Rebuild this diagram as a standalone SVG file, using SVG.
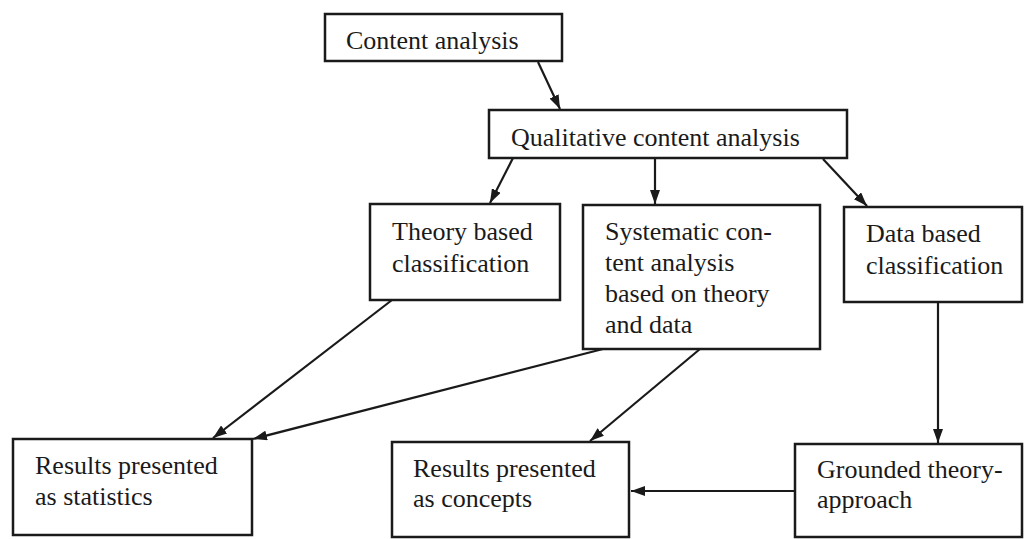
<svg xmlns="http://www.w3.org/2000/svg" width="1030" height="539" viewBox="0 0 1030 539">
<style>
.box{fill:#fff;stroke:#1a1a1a;stroke-width:2.5}
.t{font-family:"Liberation Serif","Times New Roman",serif;font-size:26px;fill:#1a1a1a}
.c{stroke:#1a1a1a;stroke-width:2.2;fill:none;marker-end:url(#ah)}
</style>
<defs>
<marker id="ah" viewBox="0 0 14 10" refX="14" refY="5" markerWidth="14" markerHeight="10" markerUnits="userSpaceOnUse" orient="auto">
<path d="M0,0 L14,5 L0,10 Z" fill="#1a1a1a"/>
</marker>
</defs>
<rect width="1030" height="539" fill="#fff"/>
<g id="connectors">
<line class="c" x1="538" y1="62" x2="560" y2="109"/>
<line class="c" x1="513" y1="158" x2="490" y2="203"/>
<line class="c" x1="655" y1="158" x2="655" y2="204"/>
<line class="c" x1="823" y1="159" x2="867" y2="206"/>
<line class="c" x1="392" y1="300" x2="213" y2="438"/>
<line class="c" x1="603" y1="349" x2="253" y2="439"/>
<line class="c" x1="700" y1="349" x2="590" y2="441"/>
<line class="c" x1="938" y1="302" x2="938" y2="443"/>
<line class="c" x1="795" y1="491" x2="631" y2="491"/>
</g>
<g id="content-analysis">
<rect class="box" x="325" y="14" width="237" height="47"/>
<text class="t" x="346" y="49">Content analysis</text>
</g>
<g id="qualitative">
<rect class="box" x="489" y="110" width="358" height="48"/>
<text class="t" x="511" y="146">Qualitative content analysis</text>
</g>
<g id="theory-based">
<rect class="box" x="370" y="204" width="190" height="96"/>
<text class="t" x="392" y="240">Theory based</text>
<text class="t" x="392" y="272">classification</text>
</g>
<g id="systematic">
<rect class="box" x="583" y="205" width="237" height="144"/>
<text class="t" x="605" y="240">Systematic con-</text>
<text class="t" x="605" y="271">tent analysis</text>
<text class="t" x="605" y="302">based on theory</text>
<text class="t" x="605" y="333">and data</text>
</g>
<g id="data-based">
<rect class="box" x="844" y="207" width="178" height="95"/>
<text class="t" x="866" y="242">Data based</text>
<text class="t" x="866" y="274">classification</text>
</g>
<g id="results-statistics">
<rect class="box" x="13" y="439" width="239" height="96"/>
<text class="t" x="35" y="474">Results presented</text>
<text class="t" x="35" y="505">as statistics</text>
</g>
<g id="results-concepts">
<rect class="box" x="392" y="442" width="237" height="95"/>
<text class="t" x="413" y="477">Results presented</text>
<text class="t" x="413" y="507">as concepts</text>
</g>
<g id="grounded">
<rect class="box" x="795" y="444" width="227" height="93"/>
<text class="t" x="817" y="478">Grounded theory-</text>
<text class="t" x="817" y="508">approach</text>
</g>
</svg>
